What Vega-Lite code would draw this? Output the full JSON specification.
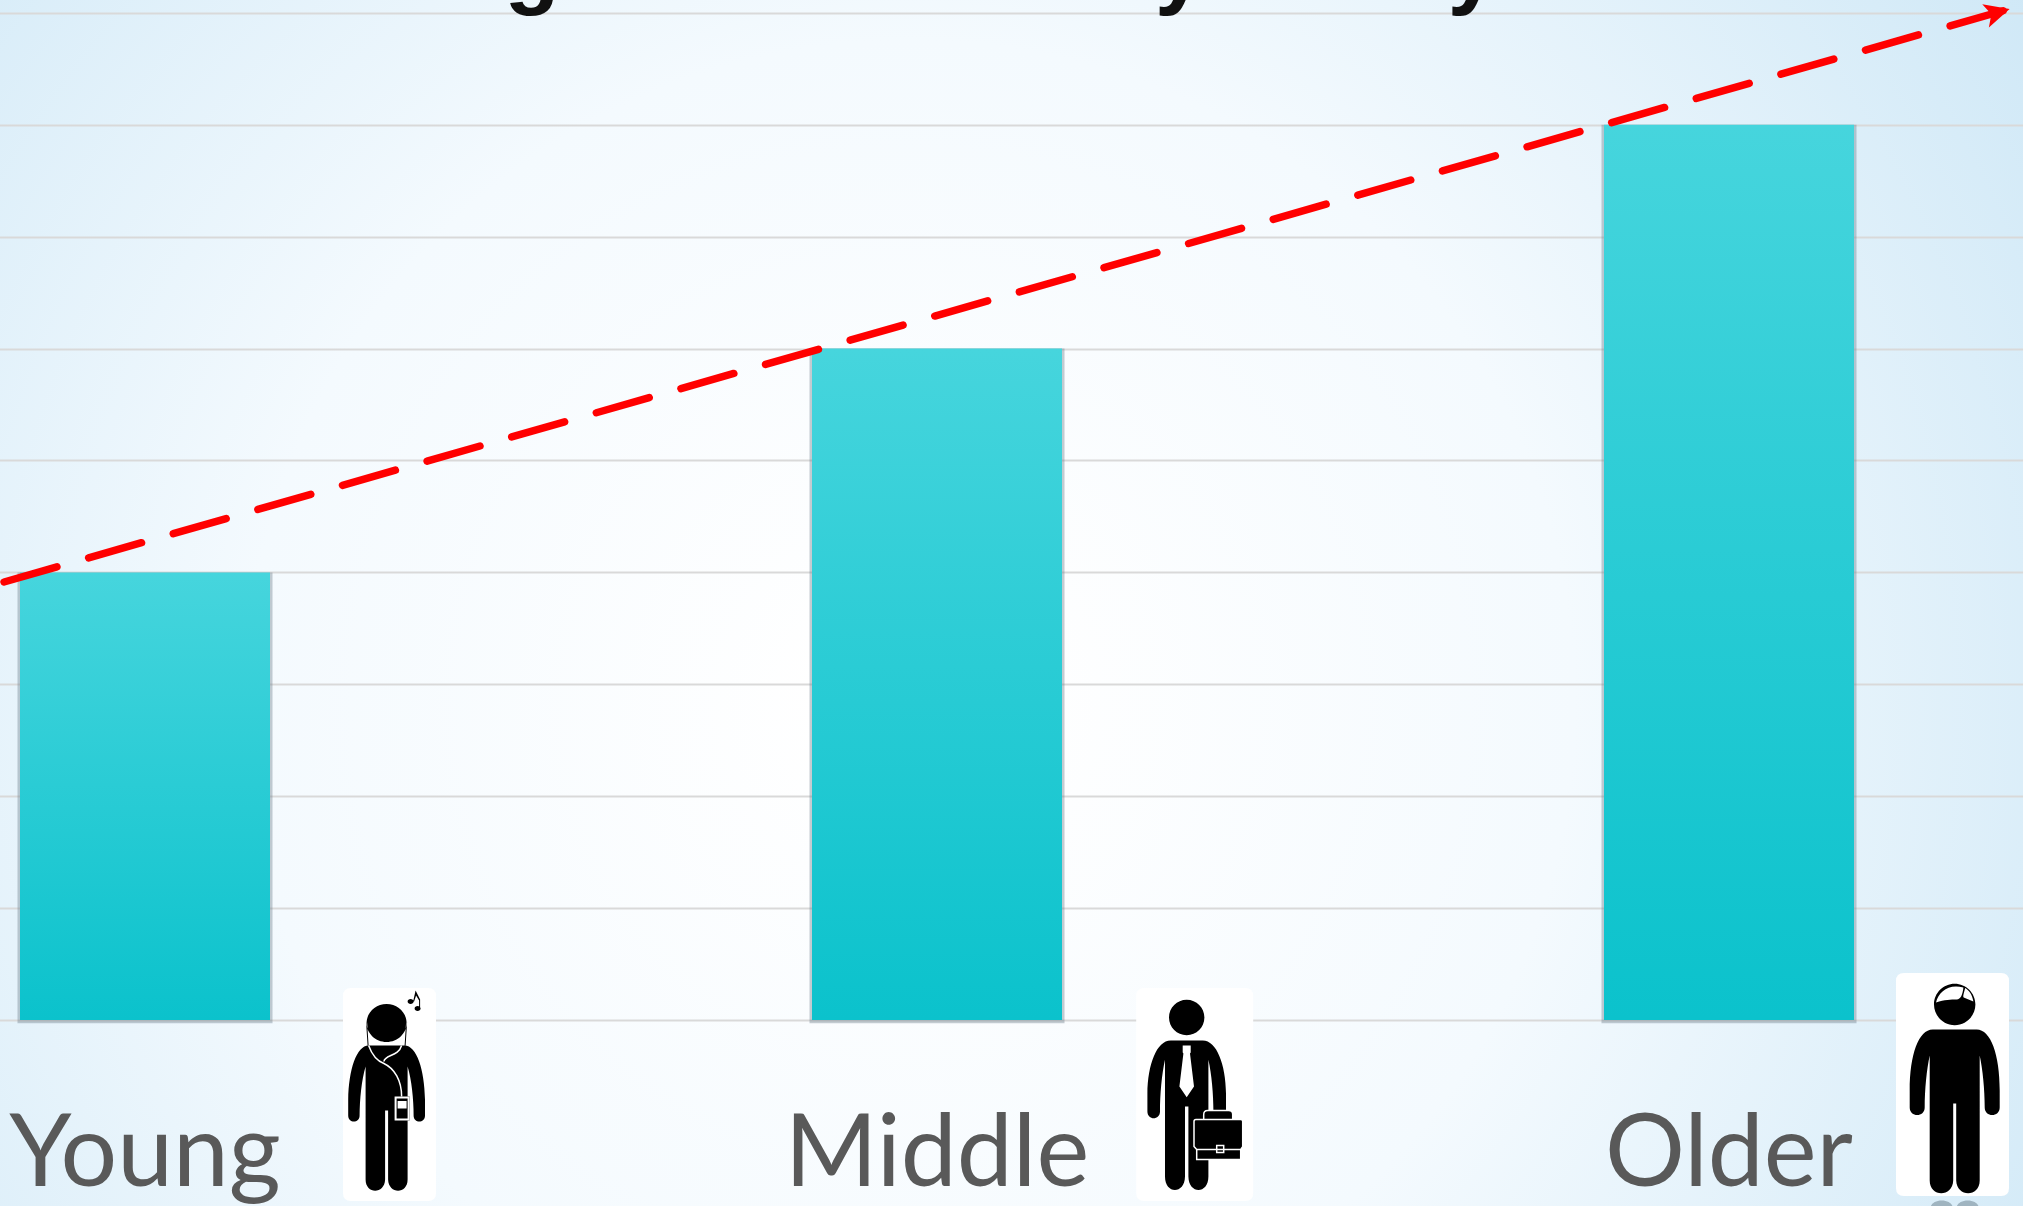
{"$schema":"https://vega.github.io/schema/vega-lite/v6.json","width":2023,"height":1206,"padding":0,"autosize":{"type":"none"},"background":"#ffffff","view":{"stroke":null,"fill":{"gradient":"radial","x1":0.45,"y1":0.55,"x2":0.45,"y2":0.55,"r1":0.04,"r2":0.68,"stops":[{"offset":0,"color":"#ffffff"},{"offset":0.45,"color":"#f4fafe"},{"offset":1,"color":"#cde7f6"}]}},"datasets":{"bars":[{"age":"Young","value":4},{"age":"Middle","value":6},{"age":"Older","value":8}],"trend":[{"t":0.002,"v":3.914},{"t":0.9915,"v":9.026}],"tip":[{"t":0.9872,"v":9.003}],"title":[{"t":0.263,"frag":"g"},{"t":0.5833,"frag":"y"},{"t":0.728,"frag":"y"}]},"resolve":{"scale":{"x":"independent"}},"encoding":{"y":{"type":"quantitative","scale":{"domain":[-1.662,9.115],"nice":false,"zero":false}}},"layer":[{"data":{"name":"bars"},"encoding":{"x":{"field":"age","type":"nominal","scale":{"domain":["Young","Middle","Older"],"range":[-251,2125],"paddingInner":0.684,"paddingOuter":0.342},"axis":{"title":null,"domain":false,"ticks":false,"orient":"bottom","labelAngle":0,"labelPadding":-21,"labelBaseline":"alphabetic","labelFont":"Lato","labelFontSize":100,"labelColor":"#595959","labelLimit":600,"labelOverlap":false,"zindex":1}}},"layer":[{"mark":{"type":"bar","width":255,"color":"#6f808c","opacity":0.4},"encoding":{"y":{"field":"value","type":"quantitative","scale":{"domain":[-1.662,9.115],"nice":false,"zero":false},"axis":{"title":null,"values":[0,1,2,3,4,5,6,7,8,9],"domain":false,"ticks":false,"labels":false,"grid":true,"gridColor":"#d9d9d9","gridWidth":2,"gridOpacity":1}},"y2":{"datum":-0.03}}},{"mark":{"type":"bar","width":250,"color":{"gradient":"linear","x1":0,"y1":0,"x2":0,"y2":1,"stops":[{"offset":0,"color":"#46d5dd"},{"offset":1,"color":"#0bc2cc"}]}},"encoding":{"y":{"field":"value","type":"quantitative"},"y2":{"datum":0}}},{"transform":[{"filter":"datum.age==='Young'"}],"mark":{"type":"point","filled":true,"opacity":1,"fill":"#ffffff","size":4,"xOffset":244.5,"shape":"M-38.5,-106.5 L38.5,-106.5 Q46.5,-106.5 46.5,-98.5 L46.5,98.5 Q46.5,106.5 38.5,106.5 L-38.5,106.5 Q-46.5,106.5 -46.5,98.5 L-46.5,-98.5 Q-46.5,-106.5 -38.5,-106.5 Z"},"encoding":{"y":{"datum":-0.666}}},{"transform":[{"filter":"datum.age==='Young'"}],"mark":{"type":"point","filled":true,"opacity":1,"fill":"#000000","size":4,"xOffset":241.6,"shape":"M-18,-49 L18,-49 C30,-49 38,-25 38.4,5 L38.4,21 C38.4,29 27,29 27,21 C27,5 25,-15 21,-28 L21,85 C21,100 2,100 1.5,85 L1.5,16 L-1.5,16 L-1.5,85 C-2,100 -21,100 -21,85 L-21,-28 C-25,-15 -27,5 -27,21 C-27,29 -38.4,29 -38.4,21 L-38.4,5 C-38,-25 -30,-49 -18,-49 Z M20,-71.5 A20,19 0 1 1 -20,-71.5 A20,19 0 1 1 20,-71.5 Z M-20.5,-72 L-19,-49 L-18,-49 L-19.5,-72 Z M19.5,-72 L18,-49 L19,-49 L20.5,-72 Z M8,2 L23,2 L23,26 L8,26 Z M21,-93 A3,2.5 0 1 1 27,-93 A3,2.5 0 1 1 21,-93 Z M28,-86 A3,2.5 0 1 1 34,-86 A3,2.5 0 1 1 28,-86 Z M26.5,-93 L29,-104 L33.5,-95 L33.5,-86 L32.5,-86 L32.5,-94 L29.5,-99 L27.5,-93 Z"},"encoding":{"y":{"datum":-0.666}}},{"transform":[{"filter":"datum.age==='Young'"}],"mark":{"type":"point","filled":true,"opacity":1,"fill":"#ffffff","size":4,"xOffset":241.6,"shape":"M8,2 L23,2 L23,26 L8,26 Z M10,4 L10,24 L21,24 L21,4 Z M11,6.5 L20,6.5 L20,14 L11,14 Z"},"encoding":{"y":{"datum":-0.666}}},{"transform":[{"filter":"datum.age==='Young'"}],"mark":{"type":"point","filled":false,"opacity":1,"fill":"transparent","stroke":"#ffffff","strokeWidth":1.5,"size":4,"xOffset":241.6,"shape":"M-18,-49 C-14,-38 -8,-33 -2.7,-31 C8,-26 15,-14 15,2 M15,-49 C12,-38 -2,-40 -2.7,-33"},"encoding":{"y":{"datum":-0.666}}},{"transform":[{"filter":"datum.age==='Middle'"}],"mark":{"type":"point","filled":true,"opacity":1,"fill":"#ffffff","size":4,"xOffset":257.7,"shape":"M-50.5,-106.5 L50.5,-106.5 Q58.5,-106.5 58.5,-98.5 L58.5,98.5 Q58.5,106.5 50.5,106.5 L-50.5,106.5 Q-58.5,106.5 -58.5,98.5 L-58.5,-98.5 Q-58.5,-106.5 -50.5,-106.5 Z"},"encoding":{"y":{"datum":-0.666}}},{"transform":[{"filter":"datum.age==='Middle'"}],"mark":{"type":"point","filled":true,"opacity":1,"fill":"#000000","size":4,"xOffset":249.7,"shape":"M-16,-54 L16,-54 C30,-54 39,-30 39.3,-1 L39.3,17 C39.3,26 26.7,26 26.7,17 C26.7,0 25,-20 21.7,-34.7 L21.7,82 C21.7,100 2,100 1.7,82 L1.7,12 L-1.7,12 L-1.7,82 C-2,100 -21.7,100 -21.7,82 L-21.7,-34.7 C-25,-20 -26.7,0 -26.7,17 C-26.7,26 -39.3,26 -39.3,17 L-39.3,-1 C-39,-30 -30,-54 -16,-54 Z M17.7,-77 A17.7,17.7 0 1 1 -17.7,-77 A17.7,17.7 0 1 1 17.7,-77 Z"},"encoding":{"y":{"datum":-0.666}}},{"transform":[{"filter":"datum.age==='Middle'"}],"mark":{"type":"point","filled":true,"opacity":1,"fill":"#ffffff","size":4,"xOffset":249.7,"shape":"M-4,-49 L4,-49 L4,-42 L3.3,-41 L7.3,-8 L0,2.7 L-7.3,-8 L-3.3,-41 L-4,-42 Z"},"encoding":{"y":{"datum":-0.666}}},{"transform":[{"filter":"datum.age==='Middle'"}],"mark":{"type":"point","filled":true,"opacity":1,"fill":"#000000","stroke":"#ffffff","strokeWidth":1.5,"size":4,"xOffset":249.7,"shape":"M17,25 L17,20 Q17,16 21,16 L42,16 Q46,16 46,20 L46,25 Z M7.3,27 Q7.3,25 9.3,25 L54,25 Q56,25 56,27 L56,52 L54,55 L54,65 L10,65 L10,55 L7.3,52 Z M10,55 L54,55 M30,51 L37,51 L37,58 L30,58 Z"},"encoding":{"y":{"datum":-0.666}}},{"transform":[{"filter":"datum.age==='Older'"}],"mark":{"type":"point","filled":true,"opacity":1,"fill":"#9fb4c0","size":4,"xOffset":225.7,"shape":"M-24,123 A11,7 0 1 1 -2,123 A11,7 0 1 1 -24,123 Z M2,123 A11,7 0 1 1 24,123 A11,7 0 1 1 2,123 Z"},"encoding":{"y":{"datum":-0.576}}},{"transform":[{"filter":"datum.age==='Older'"}],"mark":{"type":"point","filled":true,"opacity":1,"fill":"#ffffff","size":4,"xOffset":223.5,"shape":"M-48.5,-111.5 L48.5,-111.5 Q56.5,-111.5 56.5,-103.5 L56.5,103.5 Q56.5,111.5 48.5,111.5 L-48.5,111.5 Q-56.5,111.5 -56.5,103.5 L-56.5,-103.5 Q-56.5,-111.5 -48.5,-111.5 Z"},"encoding":{"y":{"datum":-0.576}}},{"transform":[{"filter":"datum.age==='Older'"}],"mark":{"type":"point","filled":true,"opacity":1,"fill":"#000000","size":4,"xOffset":225.7,"shape":"M-22,-55 L22,-55 C36,-55 45,-30 45,6 L45,23 C45,33 30,33 30,23 C30,5 28,-15 25,-29 L25,96 C25,113 2,113 1.5,96 L1.5,19 L-1.5,19 L-1.5,96 C-2,113 -25,113 -25,96 L-25,-29 C-28,-15 -30,5 -30,23 C-30,33 -45,33 -45,23 L-45,6 C-45,-30 -36,-55 -22,-55 Z M20.7,-80 A20.7,20.7 0 1 1 -20.7,-80 A20.7,20.7 0 1 1 20.7,-80 Z"},"encoding":{"y":{"datum":-0.576}}},{"transform":[{"filter":"datum.age==='Older'"}],"mark":{"type":"point","filled":true,"opacity":1,"fill":"#ffffff","size":4,"xOffset":225.7,"shape":"M-18.7,-82 C-10,-85 -4,-85 2,-85 C6,-85 8,-90 8.7,-97 C-6,-101 -16,-93 -18.7,-82 Z M10.5,-96.5 C9,-91 8,-88 9,-87 L18.7,-83 C17.5,-90 14.5,-94 10.5,-96.5 Z"},"encoding":{"y":{"datum":-0.576}}}]},{"encoding":{"x":{"field":"t","type":"quantitative","scale":{"domain":[0,1],"nice":false,"zero":false},"axis":null}},"layer":[{"data":{"name":"trend"},"mark":{"type":"line","color":"#ff0000","strokeWidth":7.5,"strokeCap":"round","strokeDash":[55,33]},"encoding":{"y":{"field":"v","type":"quantitative"}}},{"data":{"name":"tip"},"mark":{"type":"point","filled":true,"opacity":1,"fill":"#ff0000","size":4,"angle":74,"shape":"M0,-13 L12,12 L0,6 L-12,12 Z"},"encoding":{"y":{"field":"v","type":"quantitative"}}},{"data":{"name":"title"},"mark":{"type":"text","font":"Liberation Sans","fontSize":90,"fontWeight":"bold","color":"#111111","align":"center","baseline":"alphabetic"},"encoding":{"text":{"field":"frag","type":"nominal"},"y":{"datum":9.14}}}]}]}
